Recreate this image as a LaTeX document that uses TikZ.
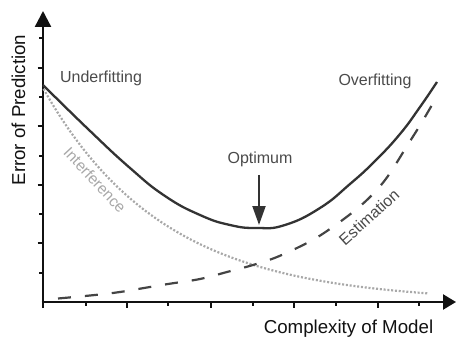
\documentclass[tikz,border=0pt]{standalone}
\usepackage{fontspec}
\setmainfont{Liberation Sans}
\usetikzlibrary{arrows.meta}
\definecolor{inkaxis}{HTML}{111111}
\definecolor{inktotal}{HTML}{333333}
\definecolor{inkest}{HTML}{444444}
\definecolor{inkinter}{HTML}{A8A8A8}
\definecolor{inknote}{HTML}{4A4A4A}
\tikzset{
  axisline/.style={draw=inkaxis, line width=2.4pt},
  tickline/.style={draw=inkaxis, line width=2pt},
  totalcurve/.style={draw=inktotal, line width=2.3pt},
  estcurve/.style={draw=inkest, line width=2.2pt, dash pattern=on 13pt off 14pt},
  intercurve/.style={draw=inkinter, line width=2.2pt, dash pattern=on 2pt off 1.8pt},
  axislabel/.style={text=inkaxis, font=\fontsize{18.7}{22}\selectfont, inner sep=0pt},
  notelabel/.style={text=inknote, font=\fontsize{16}{19}\selectfont, inner sep=0pt},
  interlabel/.style={text=inkinter, font=\fontsize{15.5}{19}\selectfont, inner sep=0pt},
}
\begin{document}
\begin{tikzpicture}[x=1pt, y=-1pt]
\useasboundingbox (0,0) rectangle (456,337);

% axes
\coordinate (O) at (43,302);
\coordinate (ybot) at (43,308);
\coordinate (ytip) at (43,11);
\coordinate (xleft) at (41.5,302);
\coordinate (xtip) at (456,302);
\draw[axisline, -{Triangle[length=16pt,width=16pt]}] (ybot) -- (ytip);
\draw[axisline, -{Triangle[length=13pt,width=15pt]}] (xleft) -- (xtip);

% ticks on the vertical axis
\foreach \y in {68,126,185,243}
  \draw[tickline] (37.5,\y) -- (43,\y);
\foreach \y in {38,97,156,214,273}
  \draw[tickline] (39,\y) -- (43,\y);
% ticks on the horizontal axis
\foreach \x in {127,211,294,378}
  \draw[tickline] (\x,302) -- (\x,308);
\foreach \x in {86,168,253,336,419}
  \draw[tickline] (\x,302) -- (\x,305.5);

% interference error
\draw[intercurve] plot[domain=43.5:428, samples=80] (\x, {302-214*exp(-(\x-43)/120)});

% estimation error
\draw[estcurve] plot[smooth, tension=0.6] coordinates {
  (58,298.5) (95,295) (120,292) (147,287.5) (168,284) (200,279) (227,272)
  (253,265) (277,257) (307,243) (327,231) (353,212) (372,195) (388,176)
  (407,146) (422,122) (436,98)};

% total error
\draw[totalcurve] plot[smooth, tension=0.8] coordinates {
  (43,85) (88,129) (130,168) (165,196) (200,215) (230,225)
  (257,228) (285,225) (320,208) (350,184) (375,161) (400,134) (420,107) (437,82)};

% labels
\node[axislabel, rotate=90, anchor=base] (ylab) at (25,110) {Error of Prediction};
\node[axislabel, anchor=base] (xlab) at (348.5,333) {Complexity of Model};
\node[notelabel, anchor=base] (under) at (101,83) {Underfitting};
\node[notelabel, anchor=base] (over) at (375,85.5) {Overfitting};
\node[notelabel, anchor=base] (opt) at (260,163.5) {Optimum};
\node[interlabel, rotate=-47] (inter) at (95,180) {Interference};
\node[notelabel, rotate=42] (est) at (369,217) {Estimation};

% optimum marker
\coordinate (optTop) at (259,175);
\coordinate (optTip) at (259,225);
\draw[draw=inktotal, line width=2pt, -{Triangle[length=19pt,width=13pt]}] (optTop) -- (optTip);
\end{tikzpicture}
\end{document}
